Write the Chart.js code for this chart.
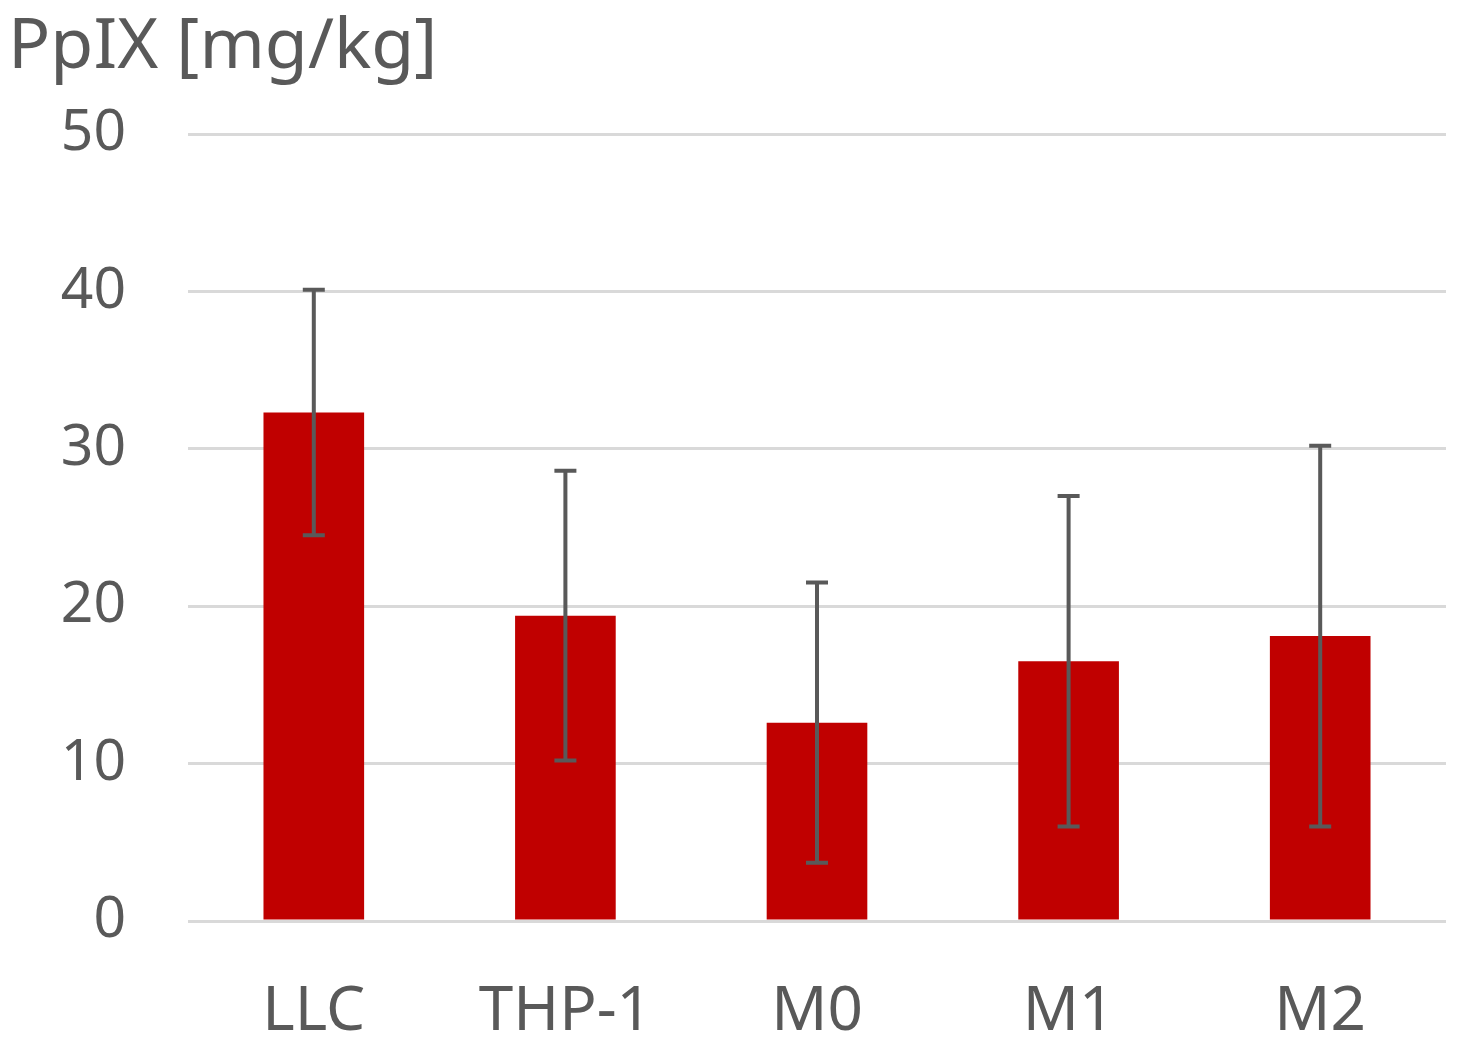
<!DOCTYPE html>
<html>
<head>
<meta charset="utf-8">
<script src="https://cdn.jsdelivr.net/npm/chart.js@4"></script>
<style>
html,body{margin:0;padding:0;background:#fff;}
#wrap{width:1462px;height:1045px;}
</style>
</head>
<body>
<div id="wrap"><canvas id="c" width="1462" height="1045"></canvas></div>
<script>
const categories = ["LLC", "THP-1", "M0", "M1", "M2"];
const means = [32.3, 19.4, 12.6, 16.5, 18.1];
const errors = [7.8, 9.2, 8.9, 10.5, 12.1];
const yTicks = [0, 10, 20, 30, 40, 50];
const titleText = "PpIX [mg/kg]";

const FONT = "'Noto Sans', sans-serif";
const TXT = "#595959";

const errorBarPlugin = {
  id: 'errorBars',
  afterDatasetsDraw(chart) {
    const ctx = chart.ctx;
    const y = chart.scales.y;
    const meta = chart.getDatasetMeta(0);
    ctx.save();
    ctx.strokeStyle = '#595959';
    ctx.lineWidth = 4;
    meta.data.forEach((bar, i) => {
      const x = bar.x;
      const top = y.getPixelForValue(means[i] + errors[i]);
      const bot = y.getPixelForValue(means[i] - errors[i]);
      ctx.beginPath();
      ctx.moveTo(x, top); ctx.lineTo(x, bot);
      ctx.moveTo(x - 11, top); ctx.lineTo(x + 11, top);
      ctx.moveTo(x - 11, bot); ctx.lineTo(x + 11, bot);
      ctx.stroke();
    });
    ctx.restore();
  }
};

new Chart(document.getElementById('c'), {
  type: 'bar',
  data: {
    labels: categories,
    datasets: [{
      data: means,
      backgroundColor: '#c00000',
      borderWidth: 0,
      categoryPercentage: 1,
      barPercentage: 0.4
    }]
  },
  options: {
    responsive: false,
    animation: false,
    devicePixelRatio: 1,
    layout: { padding: { left: 8, right: 16, top: 6, bottom: 0 } },
    plugins: {
      legend: { display: false },
      tooltip: { enabled: false },
      title: {
        display: true,
        text: titleText,
        align: 'start',
        color: TXT,
        font: { family: FONT, size: 70, weight: 'normal' },
        padding: { top: 0, bottom: 44 }
      }
    },
    scales: {
      x: {
        grid: { display: false, drawTicks: false },
        border: { display: false },
        ticks: { color: TXT, font: { family: FONT, size: 62 }, padding: 54 },
        afterFit(scale) { scale.height = 1045 - 921; }
      },
      y: {
        min: 0, max: 50,
        afterBuildTicks(scale) { scale.ticks = yTicks.map(v => ({ value: v })); },
        grid: { color: '#d9d9d9', lineWidth: 3, drawTicks: false },
        border: { display: false },
        ticks: { color: TXT, font: { family: FONT, size: 57 }, padding: 62 },
        afterFit(scale) { scale.width = 180; }
      }
    }
  },
  plugins: [errorBarPlugin]
});
</script>
</body>
</html>
